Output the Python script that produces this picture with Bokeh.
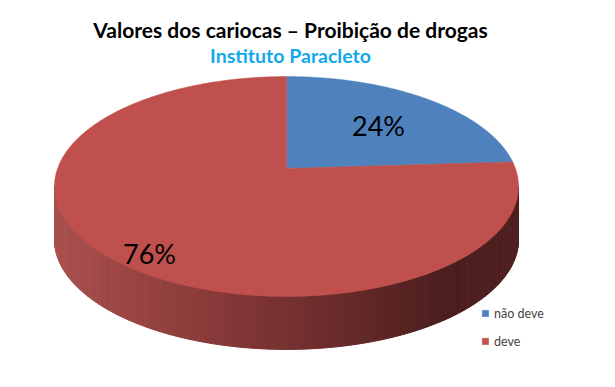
import numpy as np
from bokeh.plotting import figure
from bokeh.models import Range1d, Label, Legend, LegendItem
from bokeh.embed import file_html
from bokeh.resources import INLINE

# ---- data ----
categories = ["não deve", "deve"]
values = [24, 76]
pct_labels = ["24%", "76%"]
colors = ["#4F81BD", "#C0504D"]
title_text = "Valores dos cariocas – Proibição de drogas"
subtitle_text = "Instituto Paracleto"

# ---- layout constants ----
W, H = 615, 387
CX, CY = 286.0, 168.0        # projected pie centre
A, B, K = 228.9, 107.0, 0.1636  # perspective ellipse parameters
DEPTH = 53.0
LABEL_POS = [(378, 125), (149, 253)]
FONT = "Lato"

p = figure(width=W, height=H, x_range=Range1d(0, W), y_range=Range1d(H, 0),
           output_backend="svg", toolbar_location=None, min_border=0)
p.axis.visible = False
p.grid.visible = False
p.outline_line_color = None
p.background_fill_color = "white"
p.border_fill_color = "white"


def proj(alpha, r=1.0):
    u = r * np.sin(alpha)
    v = r * np.cos(alpha)
    d = 1 + K * v
    return CX + A * u / d, CY - B * v / d


stops = [(0.0, (170, 80, 78)), (0.3, (140, 60, 58)), (0.55, (112, 46, 46)),
         (0.85, (76, 30, 30)), (1.0, (80, 32, 32))]


def grad(f):
    for (f0, c0), (f1, c1) in zip(stops[:-1], stops[1:]):
        if f <= f1:
            t = (f - f0) / (f1 - f0) if f1 > f0 else 0
            c = [int(round(c0[j] + t * (c1[j] - c0[j]))) for j in range(3)]
            return "#%02x%02x%02x" % tuple(c)
    return "#%02x%02x%02x" % stops[-1][1]


# ---- side wall (front arc only) ----
a_r = np.arccos(-K)
a_l = 2 * np.pi - a_r
ts = np.linspace(a_r, a_l, 181)
xt, yt = proj(ts)
xmin, xmax = xt.min(), xt.max()
sxs, sys_, scs = [], [], []
for i in range(len(ts) - 1):
    x0, x1 = xt[i], xt[i + 1]
    y0, y1 = yt[i], yt[i + 1]
    sxs.append([x0, x1, x1, x0])
    sys_.append([y0, y1, y1 + DEPTH, y0 + DEPTH])
    scs.append(grad(((x0 + x1) / 2 - xmin) / (xmax - xmin)))
p.patches(sxs, sys_, fill_color=scs, line_color=scs, line_width=1)

# ---- top face slices ----
fr = np.array(values, dtype=float) / sum(values)
edges = np.concatenate([[0.0], np.cumsum(fr)]) * 2 * np.pi
rends = []
for i in range(len(values)):
    a = np.linspace(edges[i], edges[i + 1], 300)
    x, y = proj(a)
    xs = np.concatenate([[CX], x])
    ys = np.concatenate([[CY], y])
    r = p.patch(xs, ys, fill_color=colors[i], line_color=colors[i], line_width=0.5)
    rends.append(r)

# ---- percentage labels ----
for (lx, ly), txt in zip(LABEL_POS, pct_labels):
    p.add_layout(Label(x=lx, y=ly, text=txt, text_align="center",
                       text_baseline="alphabetic", text_font=FONT,
                       text_font_size="27px", text_color="black"))

# ---- titles ----
p.add_layout(Label(x=290, y=29, text=title_text, text_align="center",
                   text_baseline="alphabetic", text_font=FONT, text_font_style="bold",
                   text_font_size="21px", text_color="black"))
p.add_layout(Label(x=290, y=55, text=subtitle_text, text_align="center",
                   text_baseline="alphabetic", text_font=FONT, text_font_style="bold",
                   text_font_size="19.5px", text_color="#12A9EA"))

# ---- legend ----
legend = Legend(items=[LegendItem(label=c, renderers=[r]) for c, r in zip(categories, rends)],
                location=(481, 38), glyph_width=8, glyph_height=8, label_height=16,
                spacing=12, padding=0, margin=0, label_standoff=5,
                label_text_font=FONT, label_text_font_size="12.5px",
                border_line_color=None, background_fill_alpha=0)
p.add_layout(legend)

open("out.html", "w").write(file_html(p, INLINE))
